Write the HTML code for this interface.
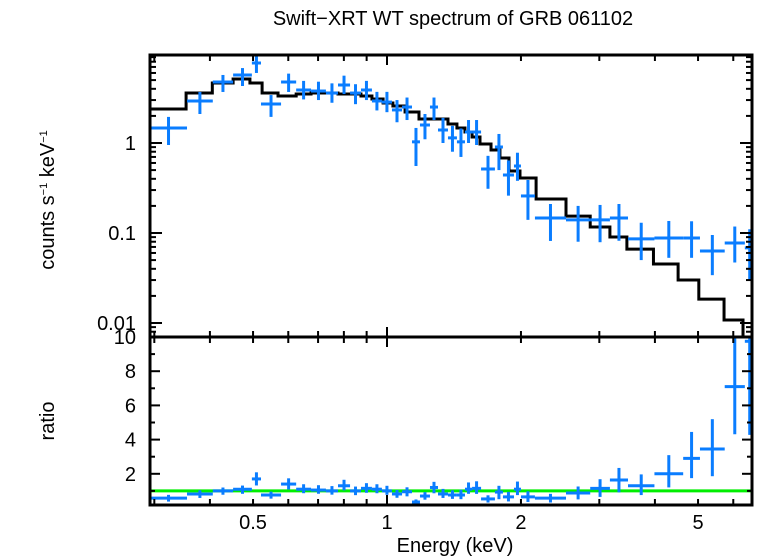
<!DOCTYPE html>
<html><head><meta charset="utf-8">
<style>
html,body{margin:0;padding:0;background:#fff;}
svg{display:block;font-family:"Liberation Sans",sans-serif;}
</style></head>
<body>
<svg id="chart" width="758" height="556" viewBox="0 0 758 556" xmlns="http://www.w3.org/2000/svg">
<text x="453" y="25" font-size="20" text-anchor="middle">Swift−XRT WT spectrum of GRB 061102</text>
<text transform="translate(54,200) rotate(-90)" font-size="20" text-anchor="middle">counts s<tspan font-size="11" dy="-7">−1</tspan><tspan dy="7"> keV</tspan><tspan font-size="11" dy="-7">−1</tspan></text>
<text transform="translate(54,421) rotate(-90)" font-size="20" text-anchor="middle">ratio</text>
<text x="455" y="552" font-size="20" text-anchor="middle">Energy (keV)</text>
<g id="plot"></g>
</svg>
<script>
// ---- data ----
const binLo = [0.2934,0.3553,0.406,0.451,0.497,0.521,0.578,0.625,0.675,0.729,0.776,0.826,0.874,0.925,0.974,1.026,1.081,1.138,1.186,1.249,1.302,1.371,1.436,1.497,1.553,1.627,1.748,1.822,1.929,2.0,2.15,2.525,2.862,3.169,3.48,3.99,4.63,5.05,5.74,6.37];
const binHi = [0.3553,0.406,0.451,0.497,0.521,0.578,0.625,0.675,0.729,0.776,0.826,0.874,0.925,0.974,1.026,1.081,1.138,1.186,1.249,1.302,1.371,1.436,1.497,1.553,1.627,1.748,1.822,1.929,2.0,2.15,2.525,2.862,3.169,3.48,3.99,4.63,5.05,5.74,6.37,6.7];
const counts = [1.47,2.93,4.76,5.7,7.74,2.71,4.76,3.88,3.78,3.59,4.41,3.59,3.88,2.93,2.85,2.33,2.51,1.03,1.585,2.51,1.395,1.14,1.03,1.325,1.325,0.514,0.903,0.441,0.555,0.258,0.147,0.14,0.14,0.147,0.086,0.088,0.088,0.0631,0.0774,0.0684];
const countsLo = [0.95,2.1,3.69,4.3,6.0,1.95,3.69,3.05,3.0,2.8,3.5,2.7,3.0,2.3,2.2,1.7,1.8,0.555,1.1,1.8,1.0,0.8,0.7,1.0,0.95,0.31,0.5,0.26,0.38,0.14,0.0816,0.08,0.079,0.082,0.05,0.053,0.053,0.034,0.047,0.03];
const countsHi = [1.95,3.69,5.7,6.8,9.5,3.41,5.9,4.9,4.8,4.6,5.6,4.5,4.9,3.7,3.7,3.0,3.2,1.47,2.1,3.2,1.9,1.55,1.45,1.8,1.8,0.72,1.26,0.64,0.78,0.388,0.21,0.2,0.205,0.21,0.13,0.136,0.135,0.095,0.118,0.11];
const ratio = [0.58,0.82,1.0,1.1,1.7,0.76,1.4,1.1,1.05,1.0,1.3,1.0,1.15,1.1,1.0,0.82,0.95,0.35,0.7,1.2,0.82,0.76,0.76,1.1,1.15,0.53,0.93,0.65,1.1,0.65,0.58,0.88,1.15,1.64,1.3,2.0,2.9,3.45,7.1,9.75];
const modelEdges = [0.2934,0.3536,0.405,0.451,0.492,0.524,0.569,0.625,0.675,0.776,0.874,0.925,0.98,1.031,1.098,1.18,1.371,1.436,1.497,1.553,1.618,1.713,1.794,1.88,1.99,2.163,2.525,2.862,3.169,3.46,3.97,4.51,5.02,5.72,6.31,6.7];
const modelVals = [2.386,3.59,4.64,5.14,4.64,3.59,3.33,3.50,3.59,3.50,3.33,3.08,2.78,2.58,2.21,1.848,1.626,1.468,1.325,1.166,0.975,0.836,0.681,0.489,0.409,0.239,0.154,0.1166,0.0903,0.0663,0.0452,0.0300,0.0184,0.0108,0.005];
const xTickLabels = [0.5,1,2,5];
const yTickLabels = [0.01,0.1,1];
const ratioTickLabels = [2,4,6,8,10];

// ---- axes ----
const L=150,R=752,T=55,MID=337,B=505;
const xs = e => 387 + 445*Math.log10(e);
const ys = v => 143 - 90*Math.log10(v);
const rs = v => 508 - 17.1*v;
const NS="http://www.w3.org/2000/svg";
const g=document.getElementById('plot');
function mk(tag,attrs,parent){const el=document.createElementNS(NS,tag);for(const k in attrs)el.setAttribute(k,attrs[k]);(parent||g).appendChild(el);return el;}
const BLUE="#0a7dff";

const defs=mk('defs',{});
const c1=mk('clipPath',{id:'ctop'},defs);mk('rect',{x:L,y:T,width:R-L,height:MID-T},c1);
const c2=mk('clipPath',{id:'cbot'},defs);mk('rect',{x:L,y:MID,width:R-L,height:B-MID},c2);
const gTop=mk('g',{'clip-path':'url(#ctop)'});


const gBot=mk('g',{'clip-path':'url(#cbot)'});



let d='';
for(let i=0;i<modelVals.length;i++){
  const x0=xs(modelEdges[i]),x1=xs(modelEdges[i+1]),y=ys(modelVals[i]);
  d+=(i===0?'M':'L')+x0+','+y+'L'+x1+','+y;
}
const mp=mk('path',{d:d,fill:'none',stroke:'#000','stroke-width':3},gTop);



const ul=mk('line',{x1:L,x2:R,y1:rs(1),y2:rs(1),stroke:'#00ee00','stroke-width':3},gBot);



for(let i=0;i<counts.length;i++){
  const x0=xs(binLo[i]),x1=xs(binHi[i]),xc=(x0+x1)/2;
  const pg=mk('g',{stroke:BLUE,'stroke-width':3},gTop);
  
  
  mk('line',{x1:x0,x2:x1,y1:ys(counts[i]),y2:ys(counts[i])},pg);
  mk('line',{x1:xc,x2:xc,y1:ys(countsLo[i]),y2:ys(countsHi[i])},pg);
  const r=ratio[i], rl=r*countsLo[i]/counts[i], rh=r*countsHi[i]/counts[i];
  const rg=mk('g',{stroke:BLUE,'stroke-width':3},gBot);
  
  
  mk('line',{x1:x0,x2:x1,y1:rs(r),y2:rs(r)},rg);
  mk('line',{x1:xc,x2:xc,y1:rs(rl),y2:rs(rh)},rg);
}

const f1=mk('rect',{x:L,y:T,width:R-L,height:MID-T,fill:'none',stroke:'#000','stroke-width':3});


const f2=mk('rect',{x:L,y:MID,width:R-L,height:B-MID,fill:'none',stroke:'#000','stroke-width':3});



const tk=mk('g',{stroke:'#000','stroke-width':2});


const xMinor=[0.3,0.4,0.5,0.6,0.7,0.8,0.9,1,2,3,4,5,6];
xMinor.forEach(e=>{
  const x=xs(e),len=(e===1)?10:6;
  [T,MID].forEach(y0=>mk('line',{x1:x,x2:x,y1:y0,y2:y0+len},tk));
  [MID,B].forEach(y0=>mk('line',{x1:x,x2:x,y1:y0,y2:y0-len},tk));
});
for(let dec=-3;dec<=0;dec++){
  for(let k=1;k<=9;k++){
    const v=k*Math.pow(10,dec),y=ys(v);
    if(y<T||y>MID)continue;
    const len=k===1?12:6;
    mk('line',{x1:L,x2:L+len,y1:y,y2:y},tk);
    mk('line',{x1:R,x2:R-len,y1:y,y2:y},tk);
  }
}
for(let v=1;v<=10;v++){
  const y=rs(v);if(y<MID-1||y>B)continue;
  const len=v%2===0?10:5;
  mk('line',{x1:L,x2:L+len,y1:y,y2:y},tk);
  mk('line',{x1:R,x2:R-len,y1:y,y2:y},tk);
}
xTickLabels.forEach(e=>{
  const t=mk('text',{x:xs(e),y:529,'font-size':20,'text-anchor':'middle'});
  t.textContent=String(e);
  
  
});
yTickLabels.forEach(v=>{
  const t=mk('text',{x:136,y:ys(v)+7,'font-size':20,'text-anchor':'end'});
  t.textContent=String(v);
  
  
});
ratioTickLabels.forEach(v=>{
  const t=mk('text',{x:136,y:rs(v)+7,'font-size':20,'text-anchor':'end'});
  t.textContent=String(v);
  
  
});
</script>
</body></html>
